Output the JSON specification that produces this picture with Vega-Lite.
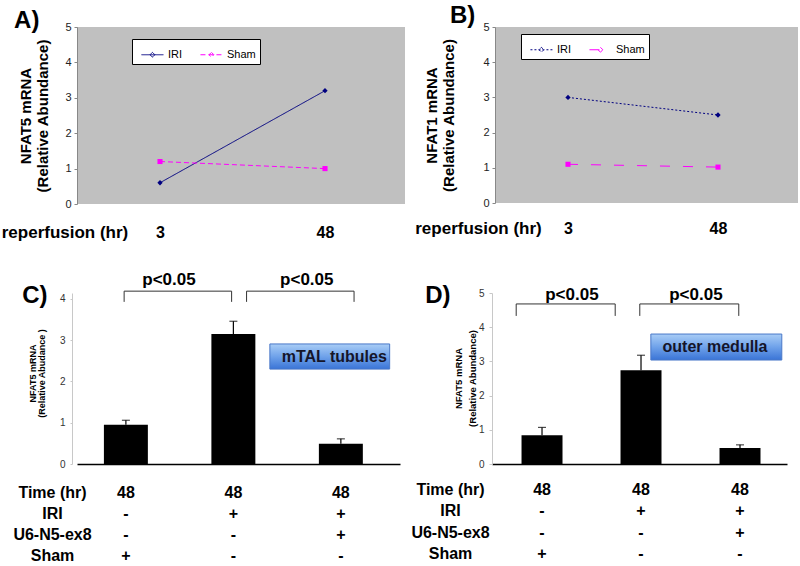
{
  "$schema": "https://vega.github.io/schema/vega-lite/v6.json",
  "background": "white",
  "padding": {"left": 1, "top": 4, "right": 0, "bottom": 0},
  "spacing": 31,
  "config": {
    "font": "Liberation Sans",
    "view": {"stroke": null},
    "axis": {"labelFont": "Liberation Sans", "titleFont": "Liberation Sans", "grid": false},
    "legend": {"labelFont": "Liberation Sans"},
    "title": {"font": "Liberation Sans"},
    "text": {"font": "Liberation Sans"}
  },
  "resolve": {"scale": {"x": "independent", "y": "independent", "color": "independent", "strokeDash": "independent"}},
  "vconcat": [
    {
      "bounds": "flush",
      "spacing": 90,
      "resolve": {"scale": {"x": "independent", "y": "independent", "color": "independent", "strokeDash": "independent"}, "legend": {"color": "independent"}},
      "hconcat": [
        {
          "width": 328,
          "height": 177,
          "view": {"fill": "#c0c0c0", "stroke": null},
          "data": {"values": [
            {"series": "IRI", "hr": 3, "value": 0.6},
            {"series": "IRI", "hr": 48, "value": 3.2},
            {"series": "Sham", "hr": 3, "value": 1.2},
            {"series": "Sham", "hr": 48, "value": 1.0}
          ]},
          "encoding": {
            "x": {"field": "hr", "type": "quantitative", "scale": {"domain": [-19.64, 69.82], "nice": false, "zero": false},
              "axis": {"values": [3, 48], "domain": false, "ticks": false, "labelFontSize": 16, "labelFontWeight": "bold", "labelColor": "black", "labelPadding": 20, "labelFlush": false,
                "title": "reperfusion (hr)", "titleFontSize": 17, "titleFontWeight": "bold", "titleColor": "black", "titleX": -12.5, "titleY": 33, "titleBaseline": "alphabetic", "titleAlign": "center"}},
            "y": {"field": "value", "type": "quantitative", "scale": {"domain": [0, 5], "nice": false},
              "axis": {"values": [0, 1, 2, 3, 4, 5], "tickCount": 6, "labelOverlap": false, "domain": true, "domainColor": "#888888", "ticks": true, "tickSize": 3, "tickColor": "#888888", "labelPadding": 3, "labelFontSize": 11, "labelColor": "#222222",
                "title": ["NFAT5 mRNA", "(Relative Abundance)"], "titleFontSize": 15, "titleFontWeight": "bold", "titleColor": "black", "titleLineHeight": 17, "titleX": -44, "titleY": 88.5}}
          },
          "layer": [
            {"mark": {"type": "line", "strokeWidth": 1},
              "encoding": {
                "color": {"field": "series", "type": "nominal", "scale": {"domain": ["IRI", "Sham"], "range": ["#000080", "#ff00ff"]},
                  "legend": {"orient": "none", "legendX": 55, "legendY": 12, "direction": "horizontal", "title": null, "fillColor": "white", "strokeColor": "black", "padding": 4, "symbolSize": 484, "labelFontSize": 11, "labelColor": "black", "labelOffset": 9, "columnPadding": 12, "symbolStrokeWidth": 1,
                    "symbolType": "M-0.55,0H1.45M0.45,-0.22L0.67,0L0.45,0.22L0.23,0Z"}},
                "strokeDash": {"field": "series", "type": "nominal", "scale": {"domain": ["IRI", "Sham"], "range": [[1, 0], [5, 3]]}, "legend": null}}},
            {"transform": [{"filter": "datum.series === 'IRI'"}],
              "mark": {"type": "point", "filled": true, "opacity": 1, "size": 28, "shape": "diamond"},
              "encoding": {"color": {"value": "#000080"}}},
            {"transform": [{"filter": "datum.series === 'Sham'"}],
              "mark": {"type": "point", "filled": true, "opacity": 1, "size": 26, "shape": "square"},
              "encoding": {"color": {"value": "#ff00ff"}}},
            {"data": {"values": [{"hr": -36.8, "value": 4.97, "t": "A)"}]},
              "mark": {"type": "text", "fontSize": 24, "fontWeight": "bold", "align": "left", "baseline": "alphabetic", "color": "black"},
              "encoding": {"text": {"field": "t"}}}
          ]
        },
        {
          "width": 303,
          "height": 176,
          "view": {"fill": "#c0c0c0", "stroke": null},
          "data": {"values": [
            {"series": "IRI", "hr": 3, "value": 3.0},
            {"series": "IRI", "hr": 48, "value": 2.5},
            {"series": "Sham", "hr": 3, "value": 1.1},
            {"series": "Sham", "hr": 48, "value": 1.02}
          ]},
          "encoding": {
            "x": {"field": "hr", "type": "quantitative", "scale": {"domain": [-18.9, 72], "nice": false, "zero": false},
              "axis": {"values": [3, 48], "domain": false, "ticks": false, "labelFontSize": 16, "labelFontWeight": "bold", "labelColor": "black", "labelPadding": 17, "labelFlush": false,
                "title": "reperfusion (hr)", "titleFontSize": 17, "titleFontWeight": "bold", "titleColor": "black", "titleX": -17, "titleY": 30, "titleBaseline": "alphabetic", "titleAlign": "center"}},
            "y": {"field": "value", "type": "quantitative", "scale": {"domain": [0, 5], "nice": false},
              "axis": {"values": [0, 1, 2, 3, 4, 5], "tickCount": 6, "labelOverlap": false, "domain": true, "domainColor": "#888888", "ticks": true, "tickSize": 3, "tickColor": "#888888", "labelPadding": 3, "labelFontSize": 11, "labelColor": "#222222",
                "title": ["NFAT1 mRNA", "(Relative Abundance)"], "titleFontSize": 15, "titleFontWeight": "bold", "titleColor": "black", "titleLineHeight": 17, "titleX": -56, "titleY": 88}}
          },
          "layer": [
            {"mark": {"type": "line", "strokeWidth": 1},
              "encoding": {
                "color": {"field": "series", "type": "nominal", "scale": {"domain": ["IRI", "Sham"], "range": ["#000080", "#ff00ff"]},
                  "legend": {"orient": "none", "legendX": 26, "legendY": 7, "direction": "horizontal", "title": null, "fillColor": "white", "strokeColor": "black", "padding": 4, "symbolSize": 484, "labelFontSize": 11, "labelColor": "black", "labelOffset": 9, "columnPadding": 12, "symbolStrokeWidth": 1,
                    "symbolType": "M-0.55,0H1.45M0.45,-0.22L0.67,0L0.45,0.22L0.23,0Z"}},
                "strokeDash": {"field": "series", "type": "nominal", "scale": {"domain": ["IRI", "Sham"], "range": [[2, 2], [10, 13]]}, "legend": null}}},
            {"transform": [{"filter": "datum.series === 'IRI'"}],
              "mark": {"type": "point", "filled": true, "opacity": 1, "size": 28, "shape": "diamond"},
              "encoding": {"color": {"value": "#000080"}}},
            {"transform": [{"filter": "datum.series === 'Sham'"}],
              "mark": {"type": "point", "filled": true, "opacity": 1, "size": 26, "shape": "square"},
              "encoding": {"color": {"value": "#ff00ff"}}},
            {"data": {"values": [{"hr": -32.4, "value": 5.11, "t": "B)"}]},
              "mark": {"type": "text", "fontSize": 24, "fontWeight": "bold", "align": "left", "baseline": "alphabetic", "color": "black"},
              "encoding": {"text": {"field": "t"}}}
          ]
        }
      ]
    },
    {
      "bounds": "flush",
      "spacing": 92,
      "resolve": {"scale": {"x": "independent", "y": "independent"}},
      "hconcat": [
        {
          "width": 323,
          "height": 171,
          "layer": [
            {
              "data": {"values": [
                {"group": "Sham", "value": 0.95, "upper": 1.06},
                {"group": "IRI", "value": 3.15, "upper": 3.46},
                {"group": "IRI + U6-N5-ex8", "value": 0.49, "upper": 0.61}
              ]},
              "layer": [
                {"mark": {"type": "bar", "color": "black"},
                  "encoding": {
                    "x": {"field": "group", "type": "nominal", "sort": null,
                      "scale": {"domain": ["Sham", "IRI", "IRI + U6-N5-ex8"], "paddingInner": 0.591, "paddingOuter": 0.298, "align": 0.42},
                      "axis": {"domain": true, "domainColor": "black", "domainWidth": 1.5, "ticks": false, "labelAngle": 0, "bandPosition": 0.42,
                        "labelExpr": "datum.value === 'Sham' ? ['48','-','-','+'] : datum.value === 'IRI' ? ['48','+','-','-'] : ['48','+','+','-']",
                        "labelFontSize": 16, "labelFontWeight": "bold", "labelColor": "black", "labelLineHeight": 21, "labelPadding": 20, "labelBaseline": "top", "labelFlush": false, "labelOverlap": false,
                        "title": ["Time (hr)", "IRI", "U6-N5-ex8", "Sham"], "titleFontSize": 16, "titleFontWeight": "bold", "titleColor": "black", "titleLineHeight": 21, "titleX": -25, "titleY": 20, "titleBaseline": "top", "titleAlign": "center"}},
                    "y": {"field": "value", "type": "quantitative", "scale": {"domain": [0, 4.145], "nice": false},
                      "axis": {"values": [0, 1, 2, 3, 4], "tickCount": 5, "labelOverlap": false, "offset": 5, "domain": true, "domainColor": "#c8c8c8", "ticks": true, "tickSize": 2, "tickColor": "#c8c8c8", "labelPadding": 5, "labelFontSize": 10, "labelColor": "#333333",
                        "title": ["NFAT5 mRNA", "(Relative Abudance )"], "titleFontSize": 9, "titleFontWeight": "bold", "titleColor": "black", "titleLineHeight": 9, "titleX": -35, "titleY": 80}}
                  }},
                {"mark": {"type": "rule", "color": "black", "strokeWidth": 1.2},
                  "encoding": {"x": {"field": "group", "type": "nominal"}, "y": {"field": "value", "type": "quantitative"}, "y2": {"field": "upper"}}},
                {"mark": {"type": "tick", "color": "black", "size": 8, "thickness": 1.2},
                  "encoding": {"x": {"field": "group", "type": "nominal"}, "y": {"field": "upper", "type": "quantitative"}}}
              ]
            },
            {
              "data": {"values": [{"group": "Sham", "y": 3.9, "t": "C)"}]},
              "mark": {"type": "text", "fontSize": 24, "fontWeight": "bold", "color": "black", "align": "left", "baseline": "alphabetic"},
              "encoding": {"x": {"field": "group", "type": "nominal", "bandPosition": -1.86}, "y": {"field": "y", "type": "quantitative"}, "text": {"field": "t"}}
            },
            {
              "data": {"values": [
                {"group": "Sham", "y": 3.93, "o": 1},
                {"group": "Sham", "y": 4.19, "o": 2},
                {"group": "IRI", "y": 4.19, "o": 3},
                {"group": "IRI", "y": 3.93, "o": 4}
              ]},
              "mark": {"type": "line", "color": "#333333", "strokeWidth": 1},
              "encoding": {"x": {"field": "group", "type": "nominal", "bandPosition": 0.46}, "y": {"field": "y", "type": "quantitative"}, "order": {"field": "o", "type": "quantitative"}}
            },
            {
              "data": {"values": [
                {"group": "IRI", "y": 3.93, "o": 1},
                {"group": "IRI", "y": 4.19, "o": 2},
                {"group": "IRI + U6-N5-ex8", "y": 4.19, "o": 3},
                {"group": "IRI + U6-N5-ex8", "y": 3.93, "o": 4}
              ]},
              "mark": {"type": "line", "color": "#333333", "strokeWidth": 1},
              "encoding": {"x": {"field": "group", "type": "nominal", "bandPosition": 0.8}, "y": {"field": "y", "type": "quantitative"}, "order": {"field": "o", "type": "quantitative"}}
            },
            {
              "data": {"values": [{"group": "Sham", "y": 4.46, "t": "p<0.05"}]},
              "mark": {"type": "text", "fontSize": 17, "fontWeight": "bold", "color": "black", "baseline": "middle", "align": "center"},
              "encoding": {"x": {"field": "group", "type": "nominal", "bandPosition": 1.48}, "y": {"field": "y", "type": "quantitative"}, "text": {"field": "t"}}
            },
            {
              "data": {"values": [{"group": "IRI", "y": 4.46, "t": "p<0.05"}]},
              "mark": {"type": "text", "fontSize": 17, "fontWeight": "bold", "color": "black", "baseline": "middle", "align": "center"},
              "encoding": {"x": {"field": "group", "type": "nominal", "bandPosition": 2.17}, "y": {"field": "y", "type": "quantitative"}, "text": {"field": "t"}}
            },
            {
              "data": {"values": [{"from": "IRI", "to": "IRI + U6-N5-ex8", "top": 2.91, "bottom": 2.3}]},
              "mark": {"type": "rect", "stroke": "#4a78c8", "strokeWidth": 1,
                "color": {"gradient": "linear", "x1": 0, "y1": 0, "x2": 0, "y2": 1, "stops": [{"offset": 0, "color": "#a9cdf6"}, {"offset": 0.5, "color": "#6fa2ea"}, {"offset": 1, "color": "#3a74d6"}]}},
              "encoding": {"x": {"field": "from", "type": "nominal", "bandPosition": 1.33}, "x2": {"field": "to", "bandPosition": 1.61}, "y": {"field": "top", "type": "quantitative"}, "y2": {"field": "bottom"}}
            },
            {
              "data": {"values": [{"group": "IRI + U6-N5-ex8", "y": 2.59, "t": "mTAL tubules"}]},
              "mark": {"type": "text", "fontSize": 16, "fontWeight": "bold", "color": "#15152a", "baseline": "middle", "align": "center"},
              "encoding": {"x": {"field": "group", "type": "nominal", "bandPosition": 0.35}, "y": {"field": "y", "type": "quantitative"}, "text": {"field": "t"}}
            }
          ]
        },
        {
          "width": 295,
          "height": 171,
          "layer": [
            {
              "data": {"values": [
                {"group": "Sham", "value": 0.84, "upper": 1.07},
                {"group": "IRI", "value": 2.74, "upper": 3.18},
                {"group": "IRI + U6-N5-ex8", "value": 0.47, "upper": 0.56}
              ]},
              "layer": [
                {"mark": {"type": "bar", "color": "black"},
                  "encoding": {
                    "x": {"field": "group", "type": "nominal", "sort": null,
                      "scale": {"domain": ["Sham", "IRI", "IRI + U6-N5-ex8"], "paddingInner": 0.586, "paddingOuter": 0.283, "align": 0.527},
                      "axis": {"domain": true, "domainColor": "black", "domainWidth": 1.5, "ticks": false, "labelAngle": 0, "bandPosition": 0.6,
                        "labelExpr": "datum.value === 'Sham' ? ['48','-','-','+'] : datum.value === 'IRI' ? ['48','+','-','-'] : ['48','+','+','-']",
                        "labelFontSize": 16, "labelFontWeight": "bold", "labelColor": "black", "labelLineHeight": 21.5, "labelPadding": 17, "labelBaseline": "top", "labelFlush": false, "labelOverlap": false,
                        "title": ["Time (hr)", "IRI", "U6-N5-ex8", "Sham"], "titleFontSize": 16, "titleFontWeight": "bold", "titleColor": "black", "titleLineHeight": 21.5, "titleX": -42, "titleY": 17, "titleBaseline": "top", "titleAlign": "center"}},
                    "y": {"field": "value", "type": "quantitative", "scale": {"domain": [0, 5], "nice": false},
                      "axis": {"values": [0, 1, 2, 3, 4, 5], "tickCount": 6, "labelOverlap": false, "domain": true, "domainColor": "#c8c8c8", "ticks": true, "tickSize": 3, "tickColor": "#c8c8c8", "labelPadding": 5, "labelFontSize": 10, "labelColor": "#333333",
                        "title": ["NFAT5 mRNA", "(Relative Abundance)"], "titleFontSize": 9.5, "titleFontWeight": "bold", "titleColor": "black", "titleLineHeight": 14, "titleX": -29, "titleY": 85}}
                  }},
                {"mark": {"type": "rule", "color": "black", "strokeWidth": 1.2},
                  "encoding": {"x": {"field": "group", "type": "nominal"}, "y": {"field": "value", "type": "quantitative"}, "y2": {"field": "upper"}}},
                {"mark": {"type": "tick", "color": "black", "size": 8, "thickness": 1.2},
                  "encoding": {"x": {"field": "group", "type": "nominal"}, "y": {"field": "upper", "type": "quantitative"}}}
              ]
            },
            {
              "data": {"values": [{"group": "Sham", "y": 4.71, "t": "D)"}]},
              "mark": {"type": "text", "fontSize": 24, "fontWeight": "bold", "color": "black", "align": "left", "baseline": "alphabetic"},
              "encoding": {"x": {"field": "group", "type": "nominal", "bandPosition": -2.35}, "y": {"field": "y", "type": "quantitative"}, "text": {"field": "t"}}
            },
            {
              "data": {"values": [
                {"group": "Sham", "y": 4.33, "o": 1},
                {"group": "Sham", "y": 4.68, "o": 2},
                {"group": "IRI", "y": 4.68, "o": 3},
                {"group": "IRI", "y": 4.33, "o": 4}
              ]},
              "mark": {"type": "line", "color": "#333333", "strokeWidth": 1},
              "encoding": {"x": {"field": "group", "type": "nominal", "bandPosition": -0.13}, "y": {"field": "y", "type": "quantitative"}, "order": {"field": "o", "type": "quantitative"}}
            },
            {
              "data": {"values": [
                {"group": "IRI", "y": 4.33, "o": 1},
                {"group": "IRI", "y": 4.68, "o": 2},
                {"group": "IRI + U6-N5-ex8", "y": 4.68, "o": 3},
                {"group": "IRI + U6-N5-ex8", "y": 4.33, "o": 4}
              ]},
              "mark": {"type": "line", "color": "#333333", "strokeWidth": 1},
              "encoding": {"x": {"field": "group", "type": "nominal", "bandPosition": 0.47}, "y": {"field": "y", "type": "quantitative"}, "order": {"field": "o", "type": "quantitative"}}
            },
            {
              "data": {"values": [{"group": "Sham", "y": 4.94, "t": "p<0.05"}]},
              "mark": {"type": "text", "fontSize": 17, "fontWeight": "bold", "color": "black", "baseline": "middle", "align": "center"},
              "encoding": {"x": {"field": "group", "type": "nominal", "bandPosition": 1.23}, "y": {"field": "y", "type": "quantitative"}, "text": {"field": "t"}}
            },
            {
              "data": {"values": [{"group": "IRI", "y": 4.94, "t": "p<0.05"}]},
              "mark": {"type": "text", "fontSize": 17, "fontWeight": "bold", "color": "black", "baseline": "middle", "align": "center"},
              "encoding": {"x": {"field": "group", "type": "nominal", "bandPosition": 1.84}, "y": {"field": "y", "type": "quantitative"}, "text": {"field": "t"}}
            },
            {
              "data": {"values": [{"from": "IRI", "to": "IRI + U6-N5-ex8", "top": 3.8, "bottom": 3.04}]},
              "mark": {"type": "rect", "stroke": "#4a78c8", "strokeWidth": 1,
                "color": {"gradient": "linear", "x1": 0, "y1": 0, "x2": 0, "y2": 1, "stops": [{"offset": 0, "color": "#a9cdf6"}, {"offset": 0.5, "color": "#6fa2ea"}, {"offset": 1, "color": "#3a74d6"}]}},
              "encoding": {"x": {"field": "from", "type": "nominal", "bandPosition": 0.74}, "x2": {"field": "to", "bandPosition": 1.52}, "y": {"field": "top", "type": "quantitative"}, "y2": {"field": "bottom"}}
            },
            {
              "data": {"values": [{"group": "IRI + U6-N5-ex8", "y": 3.42, "t": "outer medulla"}]},
              "mark": {"type": "text", "fontSize": 16, "fontWeight": "bold", "color": "#15152a", "baseline": "middle", "align": "center"},
              "encoding": {"x": {"field": "group", "type": "nominal", "bandPosition": -0.11}, "y": {"field": "y", "type": "quantitative"}, "text": {"field": "t"}}
            }
          ]
        }
      ]
    }
  ]
}
